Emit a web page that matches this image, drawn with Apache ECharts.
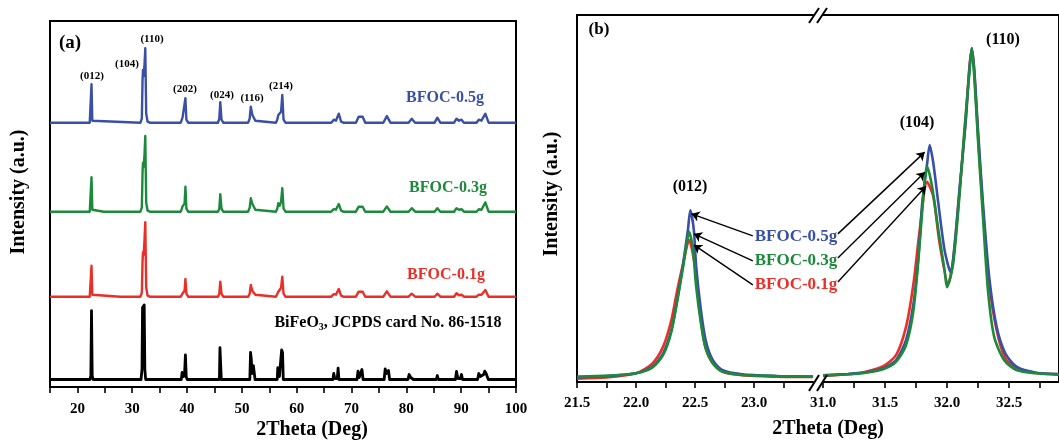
<!DOCTYPE html>
<html><head><meta charset="utf-8">
<script src="https://cdn.jsdelivr.net/npm/echarts@6/dist/echarts.min.js"></script>
<style>html,body{margin:0;padding:0;background:#fff}#c{width:1059px;height:440px}</style>
</head><body><div id="c"></div><script>
// ---------- Panel (a): XRD patterns (2theta, intensity above own baseline) ----------
const seriesNamesA = ['BiFeO3, JCPDS card No. 86-1518', 'BFOC-0.1g', 'BFOC-0.3g', 'BFOC-0.5g'];
const offsetsA = [7.5, 90.3, 175.3, 264.3];
const ticksA = [15, 20, 25, 30, 35, 40, 45, 50, 55, 60, 65, 70, 75, 80, 85, 90, 95, 100];

const patternBlue = [
[15,0],[22.25,0],[22.45,2],[22.57,38.4],[22.72,2],[22.9,0],
[31.5,0],[31.75,4],[31.88,42],[31.96,52.7],[32.08,47],[32.22,56],[32.38,74.4],[32.55,9],[32.8,1],[33.2,0],
[38.85,0],[39.05,3],[39.2,6],[39.4,4],[39.55,8],[39.7,24.4],[39.88,3],[40.2,0],
[45.65,0],[45.88,4],[46.06,20.4],[46.28,3],[46.6,0],
[51.15,0],[51.42,4],[51.63,16],[51.9,8],[52.2,9.4],[52.45,2],[52.8,0],
[56.2,0],[56.45,3],[56.65,7.7],[56.9,6],[57.15,11],[57.37,27.7],[57.6,3],[57.95,0],
[66.3,0],[66.76,3],[67.15,2],[67.67,9],[68.1,1],[68.5,0],
[70.8,0],[71.3,6],[71.65,4],[72.03,6],[72.5,0],
[75.8,0],[76.44,6.6],[77.1,0],
[80.4,0],[80.98,4],[81.6,0],
[85.15,0],[85.65,5],[86.2,0],
[88.7,0],[89.15,4],[89.6,2],[90.06,3],[90.5,0],
[92.8,0],[93.21,3],[93.7,2],[94.41,9],[95,0],[100,0]];

const patternGreen = [
[15,0],[22.25,0],[22.45,2],[22.57,34.4],[22.72,2],[22.9,0],
[24.8,0],[24.99,2],[25.2,0],
[31.5,0],[31.75,4],[31.88,39],[31.96,49],[32.08,45],[32.22,55],[32.38,75.7],[32.55,9],[32.8,1],[33.2,0],
[38.85,0],[39.05,3],[39.2,5.7],[39.4,4],[39.55,8],[39.7,25],[39.88,3],[40.2,0],
[45.65,0],[45.88,3],[46.06,17.4],[46.28,3],[46.6,0],
[51.15,0],[51.42,4],[51.63,13.4],[51.9,8],[52.2,10],[52.45,2],[52.8,0],
[56.2,0],[56.45,3],[56.65,8.4],[56.9,6],[57.15,10],[57.37,23.4],[57.6,3],[57.95,0],
[66.3,0],[66.76,2.5],[67.15,2],[67.67,7.7],[68.1,1],[68.5,0],
[70.8,0],[71.3,5],[71.65,3.5],[72.03,5],[72.5,0],
[75.8,0],[76.44,5.3],[77.1,0],
[80.4,0],[80.98,3.5],[81.6,0],
[85.15,0],[85.65,3.5],[86.2,0],
[88.7,0],[89.15,3.5],[89.6,2],[90.06,2.5],[90.5,0],
[92.8,0],[93.21,2.5],[93.7,2],[94.41,9.3],[95,0],[100,0]];

const patternRed = [
[15,0],[22.25,0],[22.45,2],[22.57,31],[22.72,2],[22.9,0],
[27.8,0],[28.0,2],[28.2,0],
[31.5,0],[31.75,4],[31.88,35],[31.96,44.4],[32.08,42],[32.22,55],[32.38,74.4],[32.55,9],[32.8,1],[33.2,0],
[38.85,0],[39.05,2],[39.2,3.4],[39.4,3],[39.55,6],[39.7,17.7],[39.88,3],[40.2,0],
[45.65,0],[45.88,3],[46.06,15],[46.28,3],[46.6,0],
[51.15,0],[51.42,3],[51.63,11.7],[51.9,6],[52.2,6.7],[52.45,2],[52.8,0],
[56.2,0],[56.45,2],[56.65,5],[56.9,5],[57.15,9],[57.37,20],[57.6,3],[57.95,0],
[66.3,0],[66.76,2.5],[67.15,2],[67.67,7.7],[68.1,1],[68.5,0],
[70.8,0],[71.3,5],[71.65,3.5],[72.03,5],[72.5,0],
[75.8,0],[76.44,5.4],[77.1,0],
[80.4,0],[80.98,3],[81.6,0],
[85.15,0],[85.65,3],[86.2,0],
[88.7,0],[89.15,3.5],[89.6,1.5],[90.06,2],[90.5,0],
[92.8,0],[93.21,2],[93.7,2],[94.41,6.7],[95,0],[100,0]];

const patternRef = [
[15,0],[22.3,0],[22.45,4],[22.57,68.8],[22.7,4],[22.85,0],
[31.6,0],[31.78,10],[31.88,72],[31.98,74],[32.08,70],[32.18,74.5],[32.3,10],[32.45,0],
[37.85,0],[38.0,2],[38.15,0],
[38.95,0],[39.1,7],[39.25,8],[39.4,3],[39.55,6],[39.7,24.5],[39.85,3],[40.0,0],
[45.9,0],[46.0,31.8],[46.12,31],[46.25,0],
[51.45,0],[51.58,27],[51.72,20],[51.85,6],[52.1,13.8],[52.25,12],[52.4,0],
[56.45,0],[56.55,11.8],[56.7,11],[56.85,3],[57.1,20],[57.25,29.5],[57.42,27],[57.55,0],
[66.6,0],[66.76,6],[66.95,1],[67.4,1],[67.55,11.3],[67.7,0],
[71.0,0],[71.18,8.3],[71.4,2],[71.7,3],[71.9,10],[72.1,0],
[75.95,0],[76.14,10.7],[76.4,6],[76.74,9],[76.95,0],
[80.3,0],[80.5,5],[80.8,2],[81.1,4],[81.3,0],
[85.45,0],[85.65,4],[85.85,0],
[88.95,0],[89.15,8],[89.4,1],[89.85,1],[90.06,5],[90.25,0],
[93.0,0],[93.21,6],[93.5,3],[94.1,5],[94.3,8.3],[94.55,6],[94.73,7],[94.95,0],[100,0]];

const peakLabelsA = ['(012)', '(104)', '(110)', '(202)', '(024)', '(116)', '(214)'];

// ---------- Panel (b): normalised zoom on (012), (104), (110) ----------
const seriesNamesB = ['BFOC-0.1g', 'BFOC-0.5g', 'BFOC-0.3g'];
const ticksBLeft = [21.5, 21.75, 22.0, 22.25, 22.5, 22.75, 23.0, 23.25];
const labelsBLeft = [21.5, 22.0, 22.5, 23.0];
const ticksBRight = [31.0, 31.25, 31.5, 31.75, 32.0, 32.25, 32.5, 32.75];
const labelsBRight = [31.0, 31.5, 32.0, 32.5];

const zoomBlueLeft = [[21.5,1.4],[21.77,1.8],[22.0,2.6],[22.14,4.6],[22.23,8.6],[22.3,15.6],[22.35,24.6],[22.4,35.6],[22.44,45.6],[22.46,51.5],[22.49,45.6],[22.51,34.6],[22.55,21.6],[22.59,12.6],[22.65,6.6],[22.73,3.6],[22.9,2.3],[23.19,1.8],[23.5,1.6]];
const zoomGreenLeft = [[21.5,1.6],[21.77,1.9],[22.0,2.6],[22.14,4.4],[22.23,8.1],[22.3,15.1],[22.35,24.6],[22.4,34.6],[22.43,41.6],[22.45,45.0],[22.48,40.6],[22.51,28.6],[22.55,17.6],[22.59,10.1],[22.65,5.6],[22.73,3.1],[22.9,2.1],[23.19,1.8],[23.5,1.6]];
const zoomRedLeft = [[21.5,1.0],[21.77,1.4],[22.0,2.6],[22.14,5.6],[22.23,10.6],[22.3,18.6],[22.35,27.6],[22.4,35.6],[22.45,42.6],[22.5,34.6],[22.54,21.6],[22.58,11.6],[22.64,6.1],[22.73,3.1],[22.9,2.0],[23.19,1.6],[23.5,1.5]];

const zoomBlueRight = [[31.0,2.0],[31.2,2.4],[31.33,2.8],[31.49,4.1],[31.59,6.6],[31.67,12.6],[31.73,23.6],[31.77,37.6],[31.8,53.6],[31.84,65.5],[31.86,71.0],[31.89,65.5],[31.93,53.6],[31.98,39.6],[32.03,32.8],[32.06,40.6],[32.1,57.5],[32.15,77.5],[32.18,93.5],[32.2,100],[32.22,93.5],[32.25,75.5],[32.29,53.6],[32.34,31.6],[32.4,16.6],[32.47,8.6],[32.56,4.6],[32.72,2.8],[32.9,2.4]];
const zoomGreenRight = [[31.0,2.0],[31.2,2.3],[31.33,2.7],[31.49,3.9],[31.59,6.1],[31.67,11.1],[31.73,21.6],[31.78,41.6],[31.82,60.5],[31.84,64.5],[31.88,58.5],[31.93,45.6],[31.98,33.6],[32.0,28.4],[32.05,35.6],[32.1,55.6],[32.14,75.5],[32.18,92.5],[32.2,100],[32.22,91.5],[32.25,72.5],[32.29,49.5],[32.33,27.6],[32.38,13.6],[32.46,6.6],[32.56,3.6],[32.72,2.6],[32.9,2.2]];
const zoomRedRight = [[31.0,1.8],[31.2,2.3],[31.33,2.9],[31.49,4.8],[31.59,8.1],[31.67,16.6],[31.73,29.6],[31.78,45.6],[31.84,60.0],[31.89,55.5],[31.94,41.6],[32.01,29.4],[32.05,36.6],[32.1,56.6],[32.15,78.5],[32.18,94],[32.2,100],[32.22,93],[32.25,74],[32.29,51.6],[32.34,29.6],[32.4,15.6],[32.47,7.1],[32.56,4.2],[32.72,2.7],[32.9,2.3]];

// arrows (data coordinates): [from, to]
const arrowsLeft = [[[22.99,43.8],[22.47,50.4]], [[22.99,36.3],[22.49,44.4]], [[22.99,29.1],[22.49,41.1]]];
const arrowsRight = [[[31.12,44.4],[31.82,68.9]], [[31.12,37.2],[31.82,62.9]], [[31.12,30.0],[31.83,58.7]]];

// ---------- styles ----------
const BLUE = '#3a4fa6', GREEN = '#1c8a3b', RED = '#ec2e28', BLACK = '#000';
const FONT = '"Liberation Serif", "Times New Roman", serif';
const colorsA = [BLACK, RED, GREEN, BLUE];
const patternsA = [patternRef, patternRed, patternGreen, patternBlue];
const colorsB = [RED, BLUE, GREEN];

const chart = echarts.init(document.getElementById('c'), null, {renderer: 'canvas'});

const axisLineStyle = {show: true, onZero: false, lineStyle: {color: '#000', width: 2}};
const tickLabelStyle = {color: '#000', fontFamily: FONT, fontWeight: 'bold', fontSize: 15, margin: 14};

const seriesA = patternsA.map((p, i) => ({
  name: seriesNamesA[i], type: 'line', xAxisIndex: 0, yAxisIndex: 0,
  showSymbol: false, symbol: 'none', silent: true,
  lineStyle: {color: colorsA[i], width: i === 0 ? 2.8 : 2.4, join: 'round'},
  data: p.map(([x, y]) => [x, y + offsetsA[i]])
}));

const arrowMark = list => ({
  silent: true, symbol: ['none', 'arrow'], symbolSize: 8,
  lineStyle: {color: '#000', width: 1.4, type: 'solid'},
  label: {show: false}, emphasis: {disabled: true},
  data: list.map(([a, b]) => [{coord: a}, {coord: b}])
});

const leftB = [zoomRedLeft, zoomBlueLeft, zoomGreenLeft];
const rightB = [zoomRedRight, zoomBlueRight, zoomGreenRight];
const seriesB = [];
leftB.forEach((d, i) => seriesB.push({
  name: seriesNamesB[i], type: 'line', xAxisIndex: 1, yAxisIndex: 1,
  showSymbol: false, symbol: 'none', smooth: 0.25, silent: true,
  lineStyle: {color: colorsB[i], width: 2.6}, data: d,
  markLine: i === 2 ? arrowMark(arrowsLeft) : undefined
}));
rightB.forEach((d, i) => seriesB.push({
  name: seriesNamesB[i], type: 'line', xAxisIndex: 3, yAxisIndex: 2,
  showSymbol: false, symbol: 'none', smooth: 0.25, silent: true,
  lineStyle: {color: colorsB[i], width: 2.6}, data: d,
  markLine: i === 2 ? arrowMark(arrowsRight) : undefined
}));

function txt(x, y, text, size, color, extra) {
  return Object.assign({type: 'text', x: x, y: y, z: 100,
    style: {text: text, fill: color || '#000', font: 'bold ' + size + 'px ' + FONT,
      textAlign: 'center', textVerticalAlign: 'middle'}}, extra || {});
}
const peakPosA = [[92,76],[127,64],[152,39],[185,89],[222,95],[252,98],[281,86]];
const graphics = [
  txt(70, 43, '(a)', 19),
  ...peakLabelsA.map((t, i) => txt(peakPosA[i][0], peakPosA[i][1], t, 11)),
  txt(445, 98, 'BFOC-0.5g', 16, BLUE),
  txt(448, 188, 'BFOC-0.3g', 16, GREEN),
  txt(446, 275, 'BFOC-0.1g', 16, RED),
  {type: 'text', x: 388, y: 323, z: 100, style: {
    text: '{a|BiFeO}{s|3}{a|, JCPDS card No. 86-1518}', textAlign: 'center', textVerticalAlign: 'middle',
    rich: {a: {font: 'bold 16px ' + FONT, fill: '#000', color: '#000'},
           s: {font: 'bold 10px ' + FONT, fill: '#000', color: '#000', padding: [9, 0, 0, 0]}}}},
  txt(312, 430, '2Theta (Deg)', 20),
  txt(19, 192, 'Intensity (a.u.)', 20, '#000', {rotation: Math.PI / 2}),
  // panel b
  txt(599, 30, '(b)', 17),
  txt(690, 187, '(012)', 16),
  txt(917, 123, '(104)', 16),
  txt(1003, 40, '(110)', 16),
  txt(796, 237, 'BFOC-0.5g', 17, BLUE),
  txt(796, 261, 'BFOC-0.3g', 17, GREEN),
  txt(796, 285, 'BFOC-0.1g', 17, RED),
  txt(828, 429, '2Theta (Deg)', 20),
  txt(552, 194, 'Intensity (a.u.)', 20, '#000', {rotation: Math.PI / 2}),
  // axis break marks
  {type: 'line', z: 100, shape: {x1: 809, y1: 391, x2: 819, y2: 375}, style: {stroke: '#000', lineWidth: 2}},
  {type: 'line', z: 100, shape: {x1: 817, y1: 391, x2: 827, y2: 375}, style: {stroke: '#000', lineWidth: 2}},
  {type: 'line', z: 100, shape: {x1: 809, y1: 23, x2: 819, y2: 8}, style: {stroke: '#000', lineWidth: 2}},
  {type: 'line', z: 100, shape: {x1: 817, y1: 23, x2: 827, y2: 8}, style: {stroke: '#000', lineWidth: 2}}
];

const option = {
  animation: false,
  backgroundColor: '#fff',
  grid: [
    {left: 50, top: 21, width: 466, height: 366, show: true, borderColor: '#000', borderWidth: 2, backgroundColor: 'transparent'},
    {left: 577, top: 15, width: 236, height: 367},
    {left: 823, top: 15, width: 235.6, height: 367}
  ],
  xAxis: [
    {gridIndex: 0, type: 'value', min: ticksA[0], max: ticksA[ticksA.length - 1], interval: 5,
     axisLine: axisLineStyle, splitLine: {show: false},
     axisTick: {show: true, inside: false, length: 6, lineStyle: {color: '#000', width: 1.6}},
     axisLabel: Object.assign({}, tickLabelStyle, {margin: 15, showMinLabel: true, showMaxLabel: true,
       formatter: v => (v % 10 === 0 ? String(v) : '')})},
    {gridIndex: 1, type: 'value', min: 21.5, max: 23.5, position: 'bottom',
     axisLine: axisLineStyle, splitLine: {show: false},
     axisTick: {show: true, inside: false, length: 6, customValues: ticksBLeft, lineStyle: {color: '#000', width: 1.6}},
     axisLabel: Object.assign({}, tickLabelStyle, {customValues: labelsBLeft, formatter: v => v.toFixed(1)})},
    {gridIndex: 1, type: 'value', min: 21.5, max: 23.5, position: 'top',
     axisLine: axisLineStyle, axisTick: {show: false}, axisLabel: {show: false}, splitLine: {show: false}},
    {gridIndex: 2, type: 'value', min: 31.0, max: 32.9, position: 'bottom',
     axisLine: axisLineStyle, splitLine: {show: false},
     axisTick: {show: true, inside: false, length: 6, customValues: ticksBRight, lineStyle: {color: '#000', width: 1.6}},
     axisLabel: Object.assign({}, tickLabelStyle, {customValues: labelsBRight, formatter: v => v.toFixed(1)})},
    {gridIndex: 2, type: 'value', min: 31.0, max: 32.9, position: 'top',
     axisLine: axisLineStyle, axisTick: {show: false}, axisLabel: {show: false}, splitLine: {show: false}}
  ],
  yAxis: [
    {gridIndex: 0, type: 'value', min: 0, max: 366, axisLine: axisLineStyle,
     axisTick: {show: false}, axisLabel: {show: false}, splitLine: {show: false}},
    {gridIndex: 1, type: 'value', min: 0, max: 110, axisLine: axisLineStyle,
     axisTick: {show: false}, axisLabel: {show: false}, splitLine: {show: false}},
    {gridIndex: 2, type: 'value', min: 0, max: 110, position: 'right', axisLine: axisLineStyle,
     axisTick: {show: false}, axisLabel: {show: false}, splitLine: {show: false}}
  ],
  series: seriesA.concat(seriesB),
  graphic: {elements: graphics}
};
chart.setOption(option);
</script></body></html>
